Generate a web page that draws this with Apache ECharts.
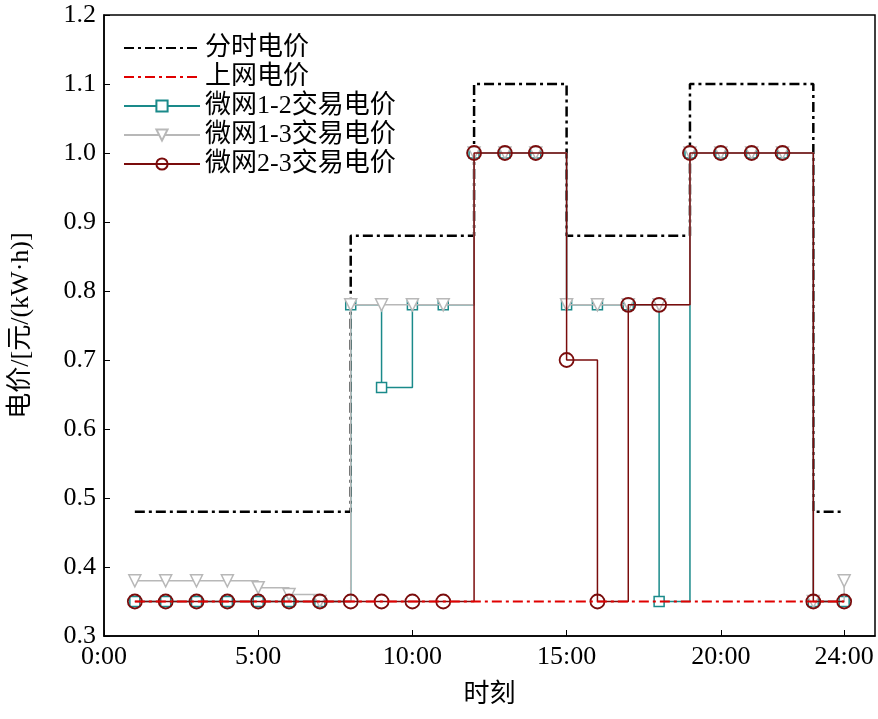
<!DOCTYPE html>
<html><head><meta charset="utf-8">
<script src="https://cdn.jsdelivr.net/npm/echarts@6/dist/echarts.min.js"></script>
<style>html,body{margin:0;padding:0;background:#fff}#c{width:878px;height:719px}</style>
</head><body><div id="c"></div>
<script>
var hours=[1,2,3,4,5,6,7,8,9,10,11,12,13,14,15,16,17,18,19,20,21,22,23,24];
var touPrice=[0.48,0.48,0.48,0.48,0.48,0.48,0.48,0.88,0.88,0.88,0.88,1.1,1.1,1.1,0.88,0.88,0.88,0.88,1.1,1.1,1.1,1.1,0.48,0.48];
var gridPrice=[0.35,0.35,0.35,0.35,0.35,0.35,0.35,0.35,0.35,0.35,0.35,0.35,0.35,0.35,0.35,0.35,0.35,0.35,0.35,0.35,0.35,0.35,0.35,0.35];
var mg12=[0.35,0.35,0.35,0.35,0.35,0.35,0.35,0.78,0.66,0.78,0.78,1.0,1.0,1.0,0.78,0.78,0.78,0.35,1.0,1.0,1.0,1.0,0.35,0.35];
var mg13=[0.38,0.38,0.38,0.38,0.37,0.36,0.35,0.78,0.78,0.78,0.78,1.0,1.0,1.0,0.78,0.78,0.78,0.78,1.0,1.0,1.0,1.0,0.35,0.38];
var mg23=[0.35,0.35,0.35,0.35,0.35,0.35,0.35,0.35,0.35,0.35,0.35,1.0,1.0,1.0,0.70,0.35,0.78,0.78,1.0,1.0,1.0,1.0,0.35,0.35];
var names=['分时电价','上网电价','微网1-2交易电价','微网1-3交易电价','微网2-3交易电价'];
var xTicks=[0,5,10,15,20,24];
function pts(v){return hours.map(function(h,i){return [h,v[i]];});}
var font='"Liberation Serif","Noto Sans CJK SC",serif';
var c=echarts.init(document.getElementById('c'));
c.setOption({
  animation:false,
  textStyle:{fontFamily:font},
  grid:{left:97,right:3,top:15,bottom:83,show:true,borderColor:'#000',borderWidth:1.5},
  legend:{left:118,top:30,orient:'vertical',itemGap:3,itemWidth:76,itemHeight:14,
    textStyle:{fontSize:26,color:'#000',fontFamily:font},
    data:names.map(function(n,i){return i<2?{name:n,itemStyle:{opacity:0}}:{name:n};})},
  xAxis:{type:'value',min:0,max:25,name:'时刻',nameLocation:'middle',nameGap:46,
    nameTextStyle:{fontSize:26,color:'#000'},
    axisLine:{lineStyle:{color:'#000',width:1.5}},
    axisTick:{inside:true,length:6,customValues:xTicks,lineStyle:{color:'#000'}},
    axisLabel:{customValues:xTicks,fontSize:26,color:'#000',formatter:function(v){return v+':00';}},
    splitLine:{show:false}},
  yAxis:{type:'value',min:0.3,max:1.2,interval:0.1,name:'电价/[元/(kW·h)]',nameLocation:'middle',nameGap:70,
    nameTextStyle:{fontSize:26,color:'#000'},
    axisLine:{lineStyle:{color:'#000',width:1.5}},
    axisTick:{inside:true,length:6,lineStyle:{color:'#000'}},
    axisLabel:{fontSize:26,color:'#000',formatter:function(v){return v.toFixed(1);}},
    splitLine:{show:false}},
  series:[
    {name:names[0],type:'line',step:'end',data:pts(touPrice),symbol:'none',z:2,
      lineStyle:{color:'#000',width:2.5,type:[10,4,3,4]},itemStyle:{color:'#000'}},
    {name:names[2],type:'line',step:'end',data:pts(mg12),symbol:'rect',symbolSize:10,z:3,
      lineStyle:{color:'#1a8a8a',width:1.5},itemStyle:{color:'#fff',borderColor:'#1a8a8a',borderWidth:1.5}},
    {name:names[3],type:'line',step:'end',data:pts(mg13),symbol:'triangle',symbolRotate:180,symbolSize:12,z:4,
      lineStyle:{color:'#b8b8b8',width:1.5},itemStyle:{color:'#fff',borderColor:'#b8b8b8',borderWidth:1.5}},
    {name:names[4],type:'line',step:'end',data:pts(mg23),symbol:'circle',symbolSize:14,z:5,
      lineStyle:{color:'#7a0c0c',width:1.5},itemStyle:{color:'none',borderColor:'#7a0c0c',borderWidth:1.8}},
    {name:names[1],type:'line',data:pts(gridPrice),symbol:'none',z:6,
      lineStyle:{color:'#e00000',width:2,type:[10,4,3,4]},itemStyle:{color:'#e00000'}}
  ]
});
</script></body></html>
